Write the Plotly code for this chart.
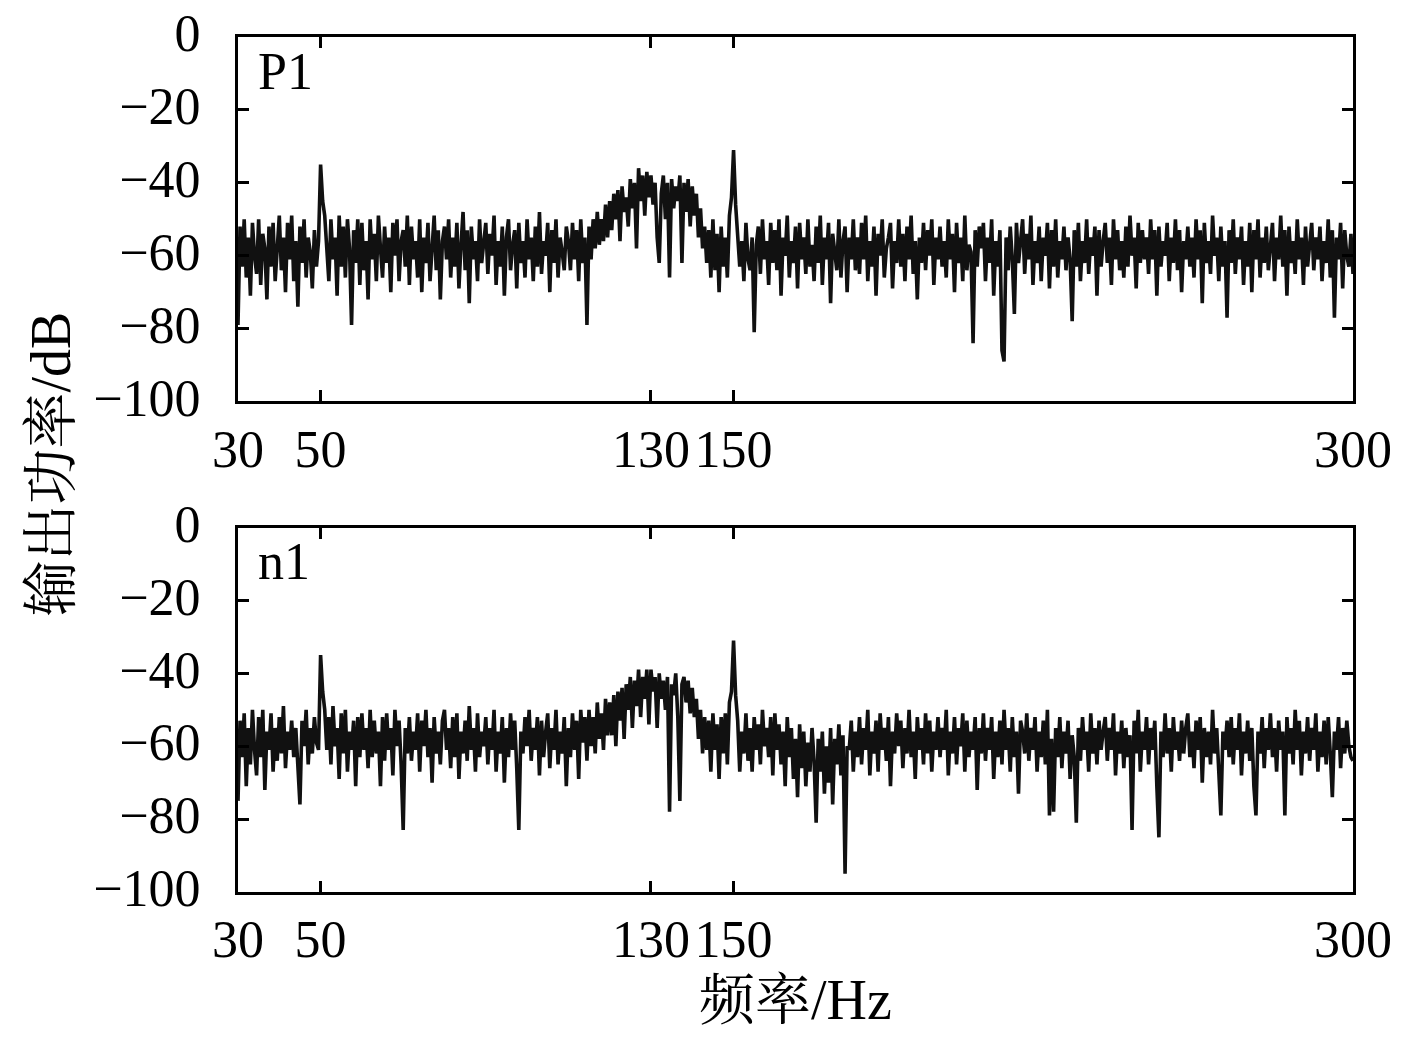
import plotly.graph_objects as go
from plotly.subplots import make_subplots

# Espectro de potencia de salida (dB), paso de 0.5 Hz desde 30 Hz hasta 300 Hz
f_start = 30
f_step = 0.5

p1_db = [
    -79, -52, -63, -50, -66, -55, -71, -51, -60, -65, -50, -68, -54, -58, -72, -52, -63, -51, -67, -56,
    -49, -64, -55, -70, -51, -61, -49, -67, -56, -74, -52, -62, -50, -66, -55, -59, -69, -53, -63, -56,
    -35, -45, -49, -58, -67, -50, -61, -55, -71, -49, -63, -52, -66, -50, -58, -79, -53, -62, -50, -68,
    -51, -64, -56, -72, -50, -61, -54, -67, -49, -58, -66, -52, -62, -55, -70, -51, -60, -50, -67, -56,
    -53, -63, -49, -68, -52, -61, -56, -66, -50, -70, -55, -62, -51, -67, -57, -49, -64, -53, -72, -56,
    -52, -61, -50, -66, -55, -63, -51, -69, -57, -48, -64, -53, -73, -52, -61, -56, -67, -50, -62, -55,
    -51, -65, -54, -60, -49, -68, -56, -63, -52, -71, -55, -50, -64, -57, -53, -69, -51, -62, -56, -66,
    -50, -61, -55, -67, -52, -63, -48, -65, -56, -60, -51, -70, -53, -62, -50, -66, -55, -59, -64, -52,
    -56, -64, -51, -61, -53, -67, -50, -62, -55, -79, -52, -61, -50, -58, -48, -57, -50, -56, -46, -55,
    -45, -53, -43, -50, -42, -56, -41, -48, -44, -52, -39, -47, -40, -58, -36, -45, -38, -49, -37, -44,
    -38, -46, -40, -55, -62, -43, -38, -50, -40, -66, -39, -47, -41, -45, -38, -62, -40, -48, -39, -52,
    -41, -49, -43, -55, -47, -58, -52, -62, -53, -66, -50, -64, -54, -70, -52, -63, -55, -66, -49, -44,
    -31, -46, -53, -63, -56, -67, -51, -61, -64, -55, -81, -57, -52, -65, -50, -61, -56, -68, -51, -62,
    -53, -64, -50, -71, -55, -60, -49, -66, -56, -62, -52, -69, -51, -61, -55, -65, -50, -63, -57, -67,
    -52, -62, -49, -68, -55, -61, -51, -73, -54, -60, -64, -50, -66, -56, -52, -70, -55, -61, -50, -64,
    -55, -65, -51, -61, -49, -67, -56, -63, -52, -71, -54, -60, -50, -66, -58, -55, -51, -69, -56, -62,
    -50, -63, -54, -67, -52, -61, -49, -65, -56, -72, -55, -62, -51, -64, -53, -60, -50, -68, -55, -61,
    -52, -63, -56, -66, -50, -61, -54, -70, -51, -62, -55, -67, -49, -64, -57, -59, -84, -53, -63, -52,
    -58, -51, -67, -55, -62, -50, -71, -56, -63, -53, -86, -89, -55, -64, -52, -61, -76, -51, -62, -56,
    -50, -65, -54, -61, -49, -68, -56, -62, -52, -67, -55, -60, -51, -69, -53, -63, -50, -66, -56, -61,
    -52, -64, -55, -61, -78, -53, -63, -51, -67, -56, -62, -50, -65, -55, -60, -52, -71, -53, -63, -56,
    -51, -62, -55, -68, -50, -61, -53, -64, -56, -66, -52, -63, -49, -60, -55, -69, -51, -62, -53, -61,
    -55, -65, -50, -61, -53, -71, -52, -63, -56, -60, -51, -67, -55, -62, -50, -64, -53, -70, -56, -61,
    -52, -63, -55, -66, -50, -61, -53, -73, -51, -62, -56, -65, -49, -60, -55, -67, -52, -63, -56, -77,
    -53, -62, -50, -65, -55, -61, -52, -68, -56, -63, -51, -70, -53, -61, -50, -66, -55, -62, -52, -64,
    -56, -51, -67, -55, -61, -49, -63, -53, -71, -52, -62, -56, -65, -50, -61, -55, -68, -52, -63, -56,
    -51, -64, -55, -61, -52, -67, -56, -62, -50, -66, -53, -77, -55, -61, -51, -69, -53, -60, -63, -54, -65,
]

n1_db = [
    -75, -53, -63, -51, -71, -55, -65, -50, -61, -68, -52, -63, -50, -72, -56, -61, -51, -67, -55, -64,
    -52, -62, -49, -66, -56, -61, -53, -63, -55, -64, -76, -53, -60, -50, -65, -55, -62, -52, -59, -61,
    -35, -45, -50, -61, -52, -65, -49, -60, -55, -69, -51, -62, -50, -67, -56, -61, -53, -71, -52, -63,
    -51, -61, -55, -66, -50, -63, -53, -62, -56, -71, -52, -64, -51, -61, -55, -68, -50, -60, -53, -65,
    -83, -55, -62, -52, -64, -56, -61, -51, -67, -53, -60, -50, -63, -55, -70, -52, -62, -56, -65, -53,
    -50, -61, -55, -66, -52, -63, -51, -69, -56, -62, -53, -64, -49, -61, -55, -67, -51, -63, -56, -60,
    -52, -65, -55, -61, -50, -67, -56, -62, -52, -70, -55, -63, -51, -61, -53, -66, -83, -56, -62, -52,
    -60, -50, -64, -55, -61, -52, -68, -53, -63, -56, -51, -66, -55, -61, -50, -65, -56, -62, -52, -71,
    -55, -63, -51, -61, -53, -69, -50, -59, -52, -64, -50, -60, -52, -62, -48, -58, -51, -61, -47, -57,
    -48, -57, -46, -60, -45, -53, -44, -58, -43, -50, -41, -55, -42, -49, -39, -52, -41, -47, -39, -54,
    -39, -45, -41, -55, -40, -47, -42, -50, -41, -78, -43, -46, -40, -52, -75, -43, -41, -48, -42, -51,
    -44, -52, -47, -58, -50, -62, -52, -61, -53, -67, -51, -61, -54, -69, -52, -62, -51, -65, -48, -45,
    -31, -46, -53, -67, -56, -62, -51, -64, -55, -67, -52, -61, -54, -65, -50, -60, -55, -63, -52, -68,
    -51, -61, -54, -65, -56, -71, -52, -63, -55, -69, -58, -74, -54, -66, -56, -71, -59, -67, -55, -64,
    -81, -58, -67, -56, -73, -60, -70, -55, -76, -58, -65, -54, -68, -57, -95, -60, -61, -53, -67, -56,
    -63, -52, -65, -55, -61, -50, -68, -56, -62, -53, -67, -51, -61, -55, -64, -52, -71, -56, -62, -51,
    -60, -53, -66, -55, -62, -50, -63, -56, -69, -52, -61, -55, -65, -51, -62, -53, -67, -56, -61, -52,
    -63, -55, -61, -50, -68, -56, -62, -52, -65, -55, -60, -51, -67, -53, -63, -56, -61, -52, -72, -55,
    -62, -51, -64, -55, -61, -52, -69, -56, -63, -53, -65, -50, -61, -55, -67, -52, -63, -56, -73, -53,
    -56, -62, -51, -64, -55, -61, -52, -67, -56, -63, -53, -65, -50, -79, -58, -78, -55, -63, -52, -66,
    -56, -62, -53, -69, -57, -63, -81, -55, -64, -52, -61, -56, -67, -51, -62, -55, -65, -53, -61, -56,
    -52, -64, -55, -61, -51, -68, -56, -62, -53, -66, -55, -63, -57, -83, -53, -62, -50, -67, -56, -61,
    -52, -65, -55, -61, -53, -71, -85, -56, -63, -51, -62, -55, -67, -52, -61, -56, -64, -53, -62, -55,
    -51, -63, -56, -66, -53, -61, -52, -70, -55, -63, -56, -65, -50, -62, -55, -67, -79, -56, -61, -53,
    -63, -52, -65, -55, -61, -51, -68, -56, -62, -53, -64, -55, -71, -79, -56, -62, -52, -66, -55, -61,
    -51, -63, -55, -67, -53, -61, -56, -79, -52, -62, -55, -65, -50, -61, -53, -68, -56, -62, -52, -64,
    -55, -61, -51, -67, -56, -63, -53, -65, -52, -62, -74, -56, -61, -52, -66, -55, -62, -53, -60, -63, -64,
]

panel_labels = ['P1', 'n1']
x_ticks = [30, 50, 130, 150, 300]
y_ticks = [0, -20, -40, -60, -80, -100]

freq_p1 = [f_start + f_step * i for i in range(len(p1_db))]
freq_n1 = [f_start + f_step * i for i in range(len(n1_db))]

latin = 'Liberation Serif, Times New Roman, serif'
cjk = 'Liberation Serif, Noto Serif CJK SC, Noto Sans CJK SC, serif'

fig = make_subplots(rows=2, cols=1, vertical_spacing=0.1474)

fig.add_trace(go.Scatter(x=freq_p1, y=p1_db, mode='lines',
                         line=dict(color='#111111', width=3.6)), row=1, col=1)
fig.add_trace(go.Scatter(x=freq_n1, y=n1_db, mode='lines',
                         line=dict(color='#111111', width=3.6)), row=2, col=1)

axis_style = dict(
    showline=True, linecolor='black', linewidth=3, mirror='ticks',
    ticks='inside', ticklen=11, tickwidth=3, tickcolor='black',
    showgrid=False, zeroline=False, automargin=False,
    ticklabeloverflow='allow',
    tickfont=dict(family=latin, size=52, color='black'),
)

for r in (1, 2):
    fig.update_xaxes(range=[30, 300], tickvals=x_ticks, ticklabelstandoff=0,
                     row=r, col=1, **axis_style)
    fig.update_yaxes(range=[-100, 0], tickvals=y_ticks, ticklabelstandoff=24,
                     ticklabelshift=-4, row=r, col=1, **axis_style)

# Etiquetas de cada panel
for i, lab in enumerate(panel_labels):
    xr = 'x domain' if i == 0 else 'x2 domain'
    yr = 'y domain' if i == 0 else 'y2 domain'
    fig.add_annotation(text=lab, x=0.016, y=0.99, xref=xr, yref=yr,
                       xanchor='left', yanchor='top', showarrow=False,
                       font=dict(family=latin, size=52, color='black'))

fig.add_annotation(text='输出功率/dB', x=-0.1686, y=0.5, xref='paper', yref='paper',
                   textangle=-90, showarrow=False, xanchor='center', yanchor='middle',
                   font=dict(family=cjk, size=56, color='black'))
fig.add_annotation(text='频率/Hz', x=0.4996, y=-0.1263, xref='paper', yref='paper',
                   showarrow=False, xanchor='center', yanchor='middle',
                   font=dict(family=cjk, size=56, color='black'))

fig.update_layout(
    width=1417, height=1039,
    margin=dict(l=230, r=72, t=29, b=155),
    template='plotly_white',
    paper_bgcolor='white', plot_bgcolor='white',
    showlegend=False,
)

fig.write_html('out.html')
